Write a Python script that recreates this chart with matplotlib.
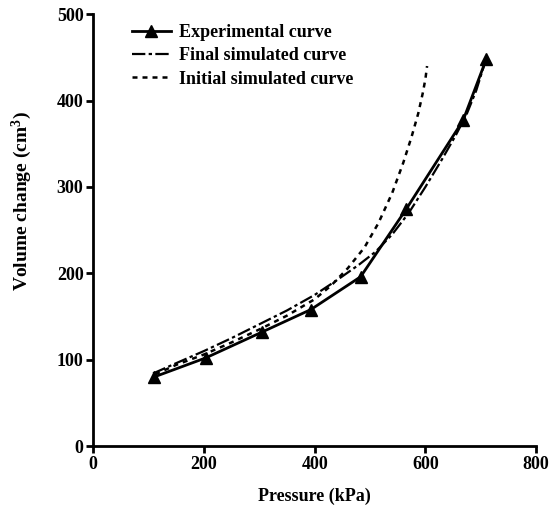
import matplotlib
matplotlib.use("Agg")
import matplotlib.pyplot as plt

# experimental points
exp_p = [110, 203, 305, 393, 483, 565, 668, 710]
exp_v = [80, 102, 132, 158, 196, 274, 377, 448]

# final simulated curve
fin_p = [108, 150, 200, 250, 300, 350, 400, 440, 480, 510, 540, 570, 600, 630, 655, 675, 692, 708]
fin_v = [84, 96, 110, 125, 141, 157, 175, 192, 210, 225, 245, 270, 300, 332, 360, 385, 412, 445]

# initial simulated curve
ini_p = [112, 150, 200, 250, 300, 350, 400, 430, 460, 490, 515, 540, 560, 575, 587, 595, 600, 603]
ini_v = [83, 94, 106, 120, 135, 151, 170, 186, 206, 230, 258, 293, 328, 358, 385, 408, 425, 440]

plt.rcParams['font.family'] = ['Liberation Serif', 'DejaVu Serif']
plt.rcParams['font.weight'] = 'bold'
plt.rcParams['axes.labelweight'] = 'bold'
plt.rcParams['mathtext.default'] = 'regular'

fig = plt.figure(figsize=(5.55, 5.08), dpi=100)
ax = fig.add_axes([0.168, 0.122, 0.798, 0.85])

ax.plot(exp_p, exp_v, color='black', lw=2, marker='^', ms=8.5, label='Experimental curve')
ax.plot(fin_p, fin_v, color='black', lw=1.6, ls=(0, (6, 1.5, 1.5, 1.5)), label='Final simulated curve')
ax.plot(ini_p, ini_v, color='black', lw=1.8, ls=(0, (2, 2)), label='Initial simulated curve')

ax.set_xlim(0, 800)
ax.set_ylim(0, 500)
ax.set_xticks([0, 200, 400, 600, 800])
ax.set_yticks([0, 100, 200, 300, 400, 500])
for s in ['top', 'right']:
    ax.spines[s].set_visible(False)
for s in ['left', 'bottom']:
    ax.spines[s].set_linewidth(2)
ax.tick_params(direction='out', length=5, width=2, labelsize=13, pad=2)
ax.set_xlabel('Pressure (kPa)', fontsize=13, labelpad=11)
ax.set_ylabel('Volume change (cm$^{3}$)', fontsize=14)
ax.yaxis.set_label_coords(-0.133, 0.567)

ax.legend(loc='upper left', bbox_to_anchor=(0.05, 1.015), frameon=False, fontsize=13,
          handlelength=2.2, handletextpad=0.4, labelspacing=0.35)

fig.savefig('out.png', dpi=100)
